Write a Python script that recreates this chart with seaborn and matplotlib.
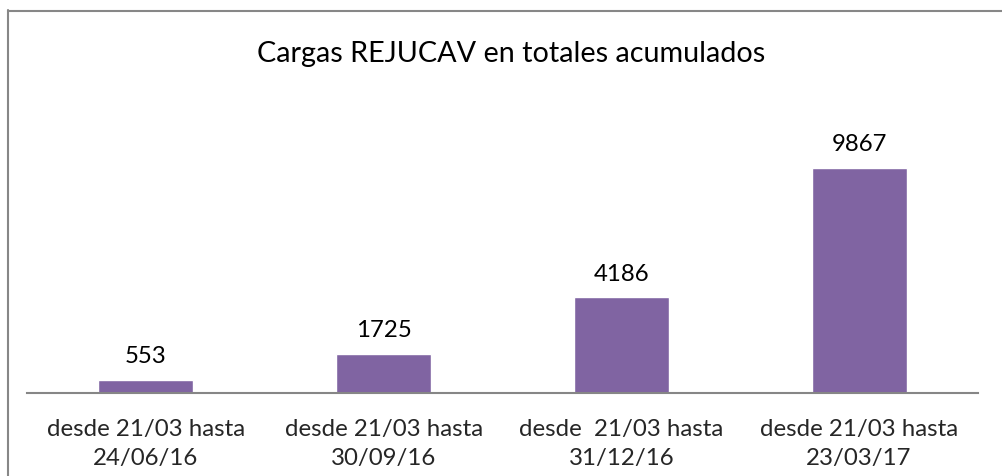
import matplotlib
matplotlib.use("Agg")
import matplotlib.pyplot as plt
import seaborn as sns
import pandas as pd
from matplotlib.lines import Line2D

categories = ["desde 21/03 hasta\n24/06/16", "desde 21/03 hasta\n30/09/16",
              "desde  21/03 hasta\n31/12/16", "desde 21/03 hasta\n23/03/17"]
values = [553, 1725, 4186, 9867]
title = "Cargas REJUCAV en totales acumulados"

sns.set_style("white")
plt.rcParams['font.family'] = ['Lato', 'DejaVu Sans']

df = pd.DataFrame({"cat": categories, "val": values})

fig = plt.figure(figsize=(10.03, 4.77), dpi=100)
renderer = fig.canvas.get_renderer()


def fit_size(s, target_px):
    t = fig.text(0, 0, s, fontsize=10)
    w = t.get_window_extent(renderer).width
    t.remove()
    return 10 * target_px / w


title_fs = fit_size(title, 507)
label_fs = fit_size("desde 21/03 hasta", 198)

ax = fig.add_axes([27/1003, 83/477, 951/1003, 274/477])
sns.barplot(data=df, x="cat", y="val", color="#8064A2", saturation=1, width=0.40, ax=ax)
ax.set_ylim(0, 12000)
ax.set_xlim(-0.5, 3.5)
ax.set_xlabel("")
ax.set_ylabel("")
ax.set_yticks([])
for s in ["top", "right", "left"]:
    ax.spines[s].set_visible(False)
ax.spines["bottom"].set_color("#868686")
ax.spines["bottom"].set_linewidth(1.5)
ax.tick_params(axis="x", length=0, labelsize=label_fs, pad=18)
for lbl in ax.get_xticklabels():
    lbl.set_linespacing(1.45)
for i, v in enumerate(values):
    ax.annotate(str(v), (i, v), xytext=(0, 10), textcoords="offset points",
                ha="center", va="bottom", fontsize=label_fs, color="black")

fig.text(511/1003, 1 - 54/477, title, ha="center", va="center", fontsize=title_fs, color="black")

fig.add_artist(Line2D([8.5/1003, 8.5/1003], [0, 1 - 11/477], transform=fig.transFigure,
                      color="#878787", linewidth=1.5))
fig.add_artist(Line2D([8.5/1003, 1], [1 - 11.5/477, 1 - 11.5/477], transform=fig.transFigure,
                      color="#878787", linewidth=1.5))

fig.savefig("out.png", dpi=100)
